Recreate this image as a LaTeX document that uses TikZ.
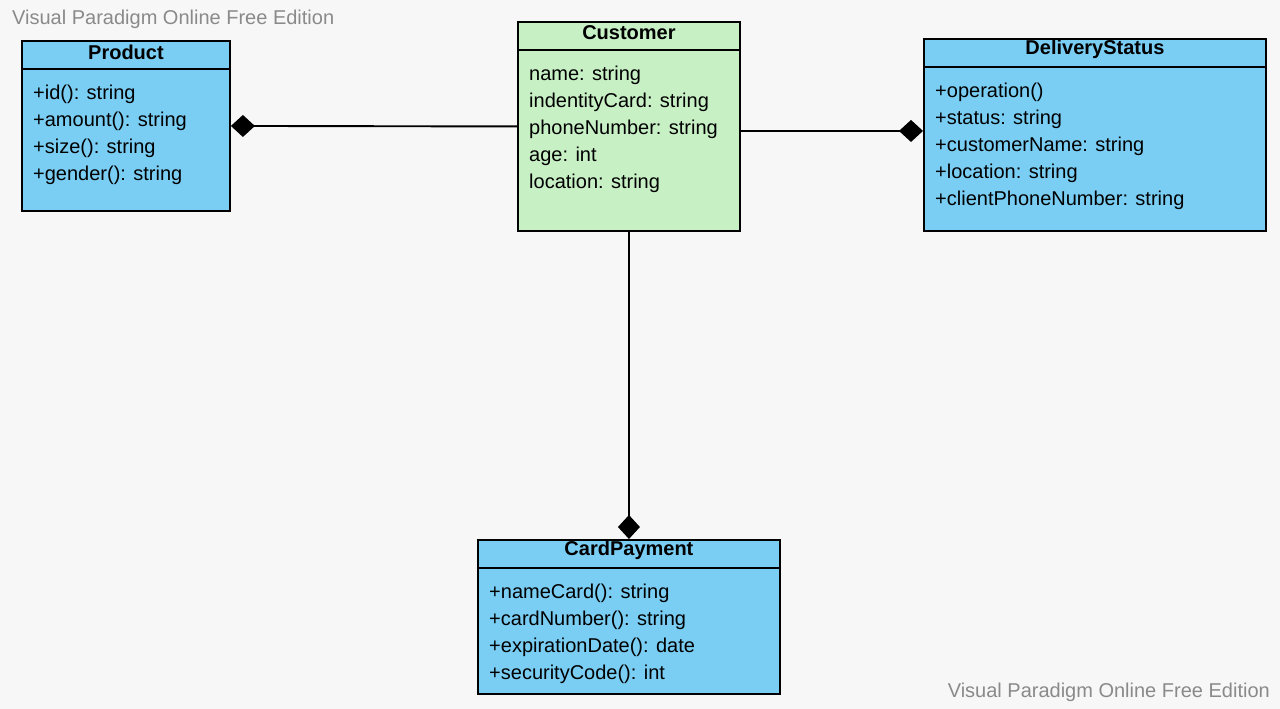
\documentclass[tikz,border=0pt]{standalone}
\usepackage{fontspec}
\setmainfont{Liberation Sans}
\usetikzlibrary{arrows.meta,positioning}
\definecolor{classblue}{HTML}{7ACEF4}
\definecolor{classgreen}{HTML}{C8F0C5}
\definecolor{canvas}{HTML}{F7F7F7}
\definecolor{markgray}{HTML}{8A8A8A}
\tikzset{
    classbox/.style={draw, line width=1.9pt, fill=classblue, anchor=north west, inner sep=0pt},
    classname/.style={font=\fontsize{20}{24}\selectfont\bfseries, inner sep=0pt},
    member/.style={font=\fontsize{20}{24}\selectfont, anchor=west, inner sep=0pt},
    watermark/.style={font=\fontsize{20}{24}\selectfont, text=markgray, inner sep=0pt},
    composite/.style={line width=1.9pt, -{Diamond[length=24pt,width=22pt]}}
}

\begin{document}
\begin{tikzpicture}[x=1pt, y=-1pt]
    \fill[canvas] (0, 0) rectangle (1280, 709);

    % classes
    \node[classbox, minimum width=208pt, minimum height=170pt] (prod) at (21, 40) {};
    \node[classbox, fill=classgreen, minimum width=222pt, minimum height=209pt] (cust) at (517, 21) {};
    \node[classbox, minimum width=342pt, minimum height=192pt] (deliv) at (923, 38) {};
    \node[classbox, minimum width=302pt, minimum height=154pt] (card) at (477, 539) {};

    \draw[line width=1.9pt]
    ([yshift=-29pt]prod.north west) -- ([yshift=-29pt]prod.north east)
    ([yshift=-29pt]cust.north west) -- ([yshift=-29pt]cust.north east)
    ([yshift=-29pt]deliv.north west) -- ([yshift=-29pt]deliv.north east)
    ([yshift=-29pt]card.north west) -- ([yshift=-29pt]card.north east);

    \node[classname] (prodname) at ([yshift=-12pt]prod.north) {Product};
    \node[classname] (custname) at ([yshift=-12pt]cust.north) {Customer};
    \node[classname] (delivname) at ([yshift=-11pt]deliv.north) {DeliveryStatus};
    \node[classname] (cardname) at ([yshift=-11pt]card.north) {CardPayment};

    % members
    \foreach \txt [count=\i] in {+id(): string, +amount(): string, +size(): string, +gender(): string}
        \node[member] (prod-\i) at (33, 67 + 27*\i) {\txt};
    \foreach \txt [count=\i] in {name: string, indentityCard: string, phoneNumber: string, age: int, location: string}
        \node[member] (cust-\i) at (529, 48 + 27*\i) {\txt};
    \foreach \txt [count=\i] in {+operation(), +status: string, +customerName: string, +location: string, +clientPhoneNumber: string}
        \node[member] (deliv-\i) at (935, 65 + 27*\i) {\txt};
    \foreach \txt [count=\i] in {+nameCard(): string, +cardNumber(): string, +expirationDate(): date, +securityCode(): int}
        \node[member] (card-\i) at (489, 566 + 27*\i) {\txt};

    % compositions
    \draw[composite] (cust.west) -- (prod.east);
    \draw[composite] ([yshift=-4.5pt]cust.east) -- ([yshift=4pt]deliv.west);
    \draw[composite] (cust.south) -- (card.north);

    \node[watermark, anchor=west] (mark1) at (12, 19) {Visual Paradigm Online Free Edition};
    \node[watermark, anchor=east] (mark2) at (1270, 692) {Visual Paradigm Online Free Edition};
\end{tikzpicture}
\end{document}
